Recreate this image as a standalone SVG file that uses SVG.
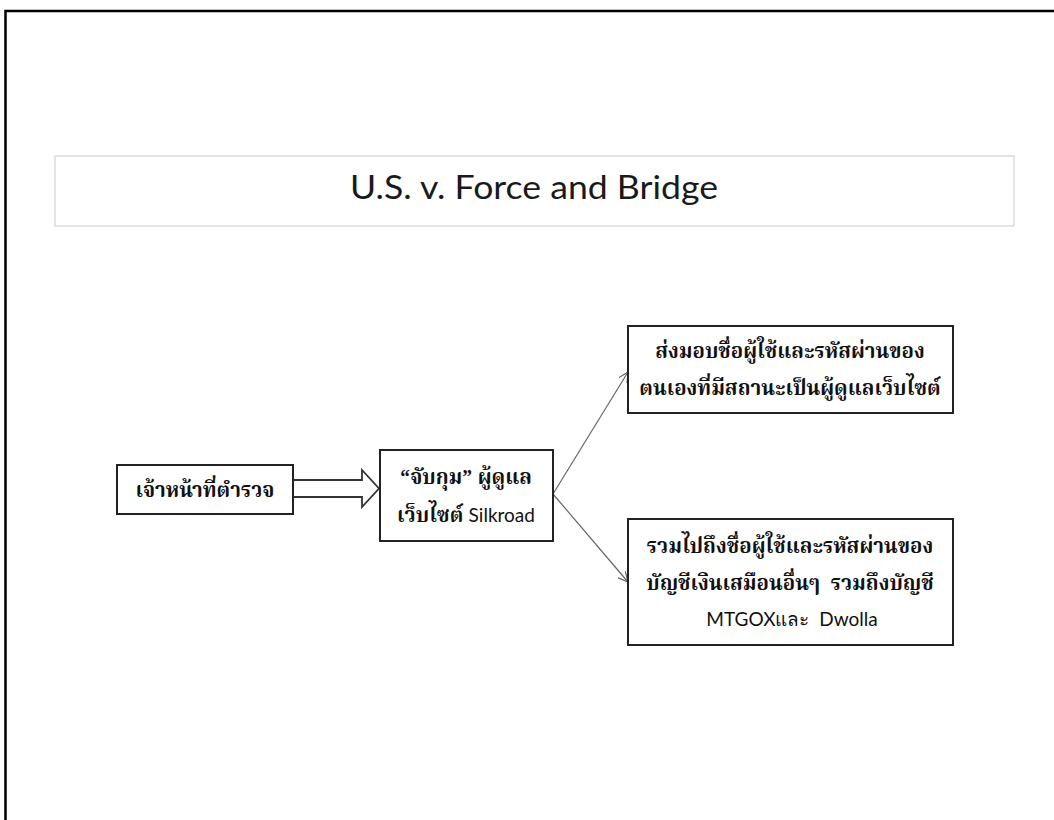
<svg xmlns="http://www.w3.org/2000/svg" width="1054" height="820" viewBox="0 0 1054 820">
  <style>
    .frame { fill: none; stroke: #000; stroke-width: 2.5; }
    .title-box { fill: #fff; stroke: #dcdcdc; stroke-width: 1.5; }
    .title { font-family: "Lato", "Open Sans", "Liberation Sans", sans-serif; font-weight: 400; font-size: 33px; fill: #1a1a1a; }
    .node { fill: #fff; stroke: #222; stroke-width: 2; }
    .thai { font-family: "Noto Serif Thai", "Noto Sans Thai", "Liberation Serif", serif; font-size: 20.5px; font-weight: bold; fill: #111; text-anchor: middle; }
    .latin { font-family: "Lato", "Noto Sans", "Liberation Sans", sans-serif; font-weight: normal; font-size: 19px; }
    .link { fill: none; stroke: #666; stroke-width: 1.2; }
    .block { fill: #fff; stroke: #333; stroke-width: 1.8; stroke-linejoin: miter; }
  </style>
  <defs>
    <marker id="open-arrow" viewBox="0 0 10 10" refX="10" refY="5" markerWidth="10" markerHeight="10" markerUnits="userSpaceOnUse" orient="auto">
      <path d="M0,0 L10,5 L0,10" fill="none" stroke="#666" stroke-width="1.2"/>
    </marker>
  </defs>

  <rect width="1054" height="820" fill="#fff"/>
  <!-- page frame: top and left edges only -->
  <path class="frame" d="M5.5,820 L5.5,11 L1054,11"/>

  <g id="title">
    <rect class="title-box" x="55" y="156" width="959" height="70"/>
    <text class="title" x="534" y="199" text-anchor="middle" textLength="368" lengthAdjust="spacingAndGlyphs">U.S. v. Force and Bridge</text>
  </g>

  <g id="connectors">
    <polygon class="block" points="293,480 362,480 362,470 379,488.5 362,507 362,497 293,497"/>
    <line class="link" x1="553" y1="494" x2="628" y2="372" marker-end="url(#open-arrow)"/>
    <line class="link" x1="553" y1="494" x2="628" y2="582" marker-end="url(#open-arrow)"/>
  </g>

  <g id="node-police">
    <rect class="node" x="117" y="465" width="176" height="49"/>
    <text class="thai" x="205" y="497">เจ้าหน้าที่ตำรวจ</text>
  </g>

  <g id="node-arrest">
    <rect class="node" x="380" y="450" width="173" height="91"/>
    <text class="thai" x="466" y="484">“จับกุม” ผู้ดูแล</text>
    <text class="thai" x="466" y="522">เว็บไซต์ <tspan class="latin">Silkroad</tspan></text>
  </g>

  <g id="node-handover">
    <rect class="node" x="628" y="326" width="325" height="87"/>
    <text class="thai" x="790" y="358">ส่งมอบชื่อผู้ใช้และรหัสผ่านของ</text>
    <text class="thai" x="790" y="395">ตนเองที่มีสถานะเป็นผู้ดูแลเว็บไซต์</text>
  </g>

  <g id="node-accounts">
    <rect class="node" x="628" y="519" width="325" height="126"/>
    <text class="thai" x="790" y="553">รวมไปถึงชื่อผู้ใช้และรหัสผ่านของ</text>
    <text class="thai" x="790" y="590" xml:space="preserve">บัญชีเงินเสมือนอื่นๆ  รวมถึงบัญชี</text>
    <text class="thai latin" x="792" y="626" xml:space="preserve">MTGOXและ  Dwolla</text>
  </g>
</svg>
